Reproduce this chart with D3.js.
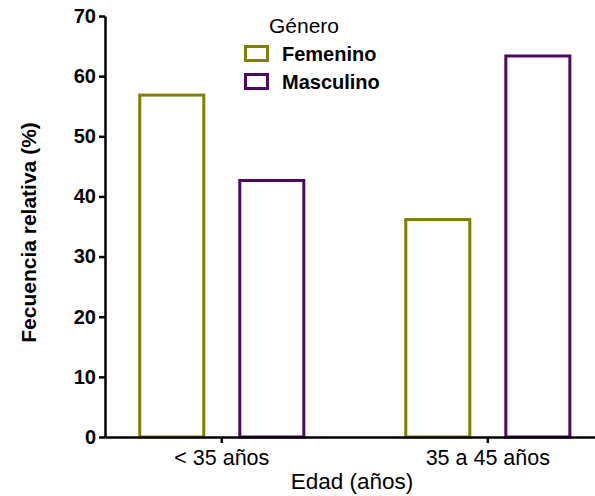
<!DOCTYPE html>
<html>
<head>
<meta charset="utf-8">
<script src="https://cdn.jsdelivr.net/npm/d3@7"></script>
<style>
  body { margin: 0; background: #fff; }
  svg { font-family: "Liberation Sans", Arial, sans-serif; }
</style>
</head>
<body>
<div id="chart"></div>
<script>
// Data
const grupos = ["< 35 años", "35 a 45 años"];
const generos = ["Femenino", "Masculino"];
const femenino = [57.1, 36.4];
const masculino = [42.9, 63.6];
const yTicks = [0, 10, 20, 30, 40, 50, 60, 70];
const colores = ["#808000", "#4b0a5f"];

const rows = grupos.map((g, i) => ({ grupo: g, valores: [femenino[i], masculino[i]] }));

const W = 595, H = 496;
const svg = d3.select("#chart").append("svg")
    .attr("width", W).attr("height", H);

// Scales
const y = d3.scaleLinear().domain([0, 70]).range([437, 16]);
const x0 = d3.scaleBand().domain(grupos)
    .range([105, 604.6]).paddingInner(0.372).paddingOuter(0.125);
const x1 = d3.scaleBand().domain(generos)
    .range([0, x0.bandwidth()]).paddingInner(0.33);
const color = d3.scaleOrdinal().domain(generos).range(colores);

// Bars
svg.append("g").selectAll("g")
    .data(rows)
    .join("g")
    .attr("transform", d => `translate(${x0(d.grupo)},0)`)
    .selectAll("rect")
    .data(d => d.valores.map((v, j) => ({ genero: generos[j], v })))
    .join("rect")
    .attr("x", d => x1(d.genero) + 1.5)
    .attr("width", x1.bandwidth() - 3)
    .attr("y", d => y(d.v) + 1.5)
    .attr("height", d => y(0) - y(d.v) - 1.5)
    .attr("fill", "none")
    .attr("stroke", d => color(d.genero))
    .attr("stroke-width", 3);

// Y axis
const yAxis = svg.append("g")
    .attr("transform", "translate(105,0)")
    .call(d3.axisLeft(y).tickValues(yTicks).tickSize(6).tickPadding(3).tickSizeOuter(0));
yAxis.select(".domain").attr("stroke", "#000").attr("stroke-width", 2.5);
yAxis.selectAll(".tick line").attr("stroke", "#000").attr("stroke-width", 2.5);
yAxis.selectAll("text")
    .attr("font-size", 20).attr("font-weight", "bold").attr("fill", "#000")
    .attr("font-family", "Liberation Sans, Arial, sans-serif");

// X axis
const xAxis = svg.append("g")
    .attr("transform", "translate(0,437)")
    .call(d3.axisBottom(x0).tickSize(6).tickPadding(7).tickSizeOuter(0));
xAxis.select(".domain").attr("stroke", "#000").attr("stroke-width", 2.5);
xAxis.selectAll(".tick line").attr("stroke", "#000").attr("stroke-width", 2.5);
xAxis.selectAll("text")
    .attr("font-size", 21.5).attr("fill", "#000")
    .attr("font-family", "Liberation Sans, Arial, sans-serif");

// Axis titles
svg.append("text")
    .attr("x", 352).attr("y", 489)
    .attr("text-anchor", "middle")
    .attr("font-size", 22.5)
    .text("Edad (años)");

svg.append("text")
    .attr("transform", "translate(36,232.5) rotate(-90)")
    .attr("text-anchor", "middle")
    .attr("font-size", 21).attr("font-weight", "bold")
    .text("Fecuencia relativa (%)");

// Legend
const legend = svg.append("g");
legend.append("text")
    .attr("x", 269).attr("y", 33)
    .attr("font-size", 21)
    .text("Género");
const item = legend.selectAll("g.item")
    .data(generos)
    .join("g")
    .attr("class", "item")
    .attr("transform", (d, i) => `translate(244,${45 + i * 28})`);
item.append("rect")
    .attr("x", 1.5).attr("y", 1.5)
    .attr("width", 22).attr("height", 14)
    .attr("fill", "none")
    .attr("stroke", d => color(d))
    .attr("stroke-width", 3);
item.append("text")
    .attr("x", 38).attr("y", 16)
    .attr("font-size", 20).attr("font-weight", "bold")
    .text(d => d);
</script>
</body>
</html>
